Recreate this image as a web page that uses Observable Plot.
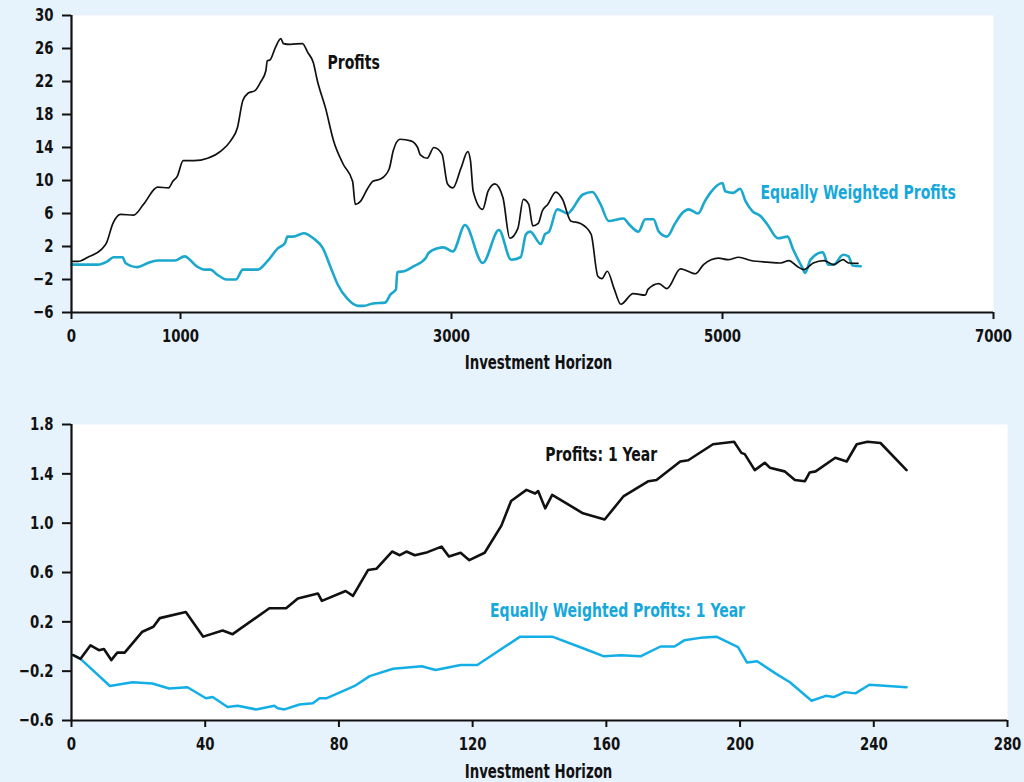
<!DOCTYPE html>
<html>
<head>
<meta charset="utf-8">
<script src="https://cdn.jsdelivr.net/npm/d3@7"></script>
<script src="https://cdn.jsdelivr.net/npm/@observablehq/plot@0.6"></script>
<style>
  html, body { margin: 0; padding: 0; background: #e7f3fc; }
  #chart { position: relative; width: 1024px; height: 782px; background: #e7f3fc; overflow: hidden; }
  #chart svg { position: absolute; left: 0; }
</style>
</head>
<body>
<div id="chart"></div>
<script>
// ---------- Top panel data ----------
const topTicksX = [0, 1000, 3000, 5000, 7000];
const topTicksY = [30, 26, 22, 18, 14, 10, 6, 2, -2, -6];

const profitsX = [0,60,150,270,320,380,450,570,660,790,890,930,970,1020,1100,1200,1300,1370,1420,1460,1500,1550,1590,1630,1640,1660,1700,1740,1760,1810,1900,1940,1980,2010,2070,2130,2200,2270,2290,2330,2380,2420,2480,2540,2570,2620,2700,2750,2770,2820,2870,2930,2970,3010,3070,3120,3140,3160,3230,3270,3320,3380,3430,3490,3530,3570,3600,3640,3670,3710,3770,3820,3880,3950,4030,4080,4110,4150,4200,4250,4340,4430,4450,4530,4590,4690,4800,4860,4970,5040,5120,5210,5330,5430,5490,5550,5600,5670,5750,5820,5890,5930,6000];
const profitsY = [0.2,0.2,0.7,1.6,2.4,4.8,5.9,5.8,7.1,9.2,9.1,9.9,10.5,12.4,12.4,12.7,13.6,14.8,16.4,19.7,20.6,20.9,21.9,23.3,24.5,24.6,26.1,27.2,26.6,26.5,26.6,25.5,24.3,22.1,18.8,14.8,12.0,9.9,7.1,7.5,9.0,9.9,10.2,11.4,13.6,15.0,14.8,14.0,13.1,12.7,14.0,13.2,9.6,9.1,11.5,13.5,12.4,8.7,6.5,8.7,9.6,7.9,3.0,4.2,7.7,7.1,4.5,4.8,6.3,7.1,8.6,7.7,5.1,4.8,3.5,-1.6,-1.9,-1.0,-3.1,-5.0,-3.7,-3.9,-3.2,-2.5,-3.1,-0.7,-1.3,-0.2,0.6,0.4,0.7,0.3,0.1,0.0,0.3,-0.4,-0.8,0.0,0.3,-0.2,0.4,0.0,-0.05];

const ewX = [0,240,330,385,470,495,605,700,790,950,1030,1120,1180,1220,1270,1340,1410,1460,1570,1640,1720,1770,1790,1830,1910,1980,2050,2110,2160,2230,2310,2350,2420,2510,2550,2590,2600,2650,2720,2810,2830,2900,2940,3010,3100,3230,3350,3440,3510,3550,3580,3660,3690,3720,3780,3860,3880,3970,4040,4100,4160,4270,4310,4380,4430,4490,4530,4590,4650,4700,4750,4820,4870,4910,5000,5020,5080,5130,5170,5220,5280,5330,5410,5480,5520,5590,5610,5650,5740,5780,5820,5890,5930,5960,6020];
const ewY = [-0.2,-0.2,0.2,0.7,0.7,0.0,-0.5,0.0,0.3,0.3,0.8,-0.4,-0.8,-0.8,-1.4,-2.0,-2.0,-0.8,-0.8,0.2,1.8,2.4,3.2,3.2,3.6,3.0,1.8,-0.6,-2.6,-4.3,-5.2,-5.2,-4.9,-4.8,-3.8,-3.2,-1.1,-1.0,-0.4,0.6,1.2,1.8,1.9,1.4,4.6,0.0,4.0,0.4,0.7,3.5,3.8,2.3,3.5,3.8,6.5,6.0,6.3,8.3,8.6,7.1,5.1,5.4,4.7,3.8,5.3,5.3,3.8,3.2,4.8,6.0,6.5,6.0,7.5,8.5,9.7,8.7,8.5,9.0,7.5,6.3,5.7,4.7,3.0,3.2,1.7,-0.6,-1.2,0.4,1.3,-0.2,-0.2,1.0,0.8,-0.3,-0.4];

// ---------- Bottom panel data ----------
const botTicksX = [0, 40, 80, 120, 160, 200, 240, 280];
const botTicksY = [1.8, 1.4, 1.0, 0.6, 0.2, -0.2, -0.6];

const profits1X = [0.5,2.7,5.7,8.2,9.7,11.9,13.7,15.9,21.2,24.5,26.4,34.2,39.4,45.2,48.2,59.2,64.2,67.7,73.7,74.9,82,84.2,88.7,91.2,95.9,98.2,100.2,102.7,106.5,110.7,112.9,116.4,119,123.6,128.6,131.5,136.1,138.7,139.6,141.7,143.8,153,159.5,165.2,172.6,175,182.1,184.5,191.9,198.2,200.4,201.4,204.4,207.4,208.9,213.3,216.4,219.4,220.8,222.6,228.5,231.9,234.9,238.1,242,249.8];
const profits1Y = [-0.07,-0.10,0.01,-0.03,-0.02,-0.11,-0.05,-0.05,0.12,0.16,0.23,0.28,0.08,0.13,0.10,0.31,0.31,0.39,0.43,0.37,0.45,0.41,0.62,0.63,0.77,0.74,0.77,0.74,0.765,0.81,0.73,0.76,0.70,0.76,0.98,1.18,1.27,1.24,1.26,1.12,1.23,1.08,1.03,1.22,1.34,1.35,1.50,1.51,1.64,1.66,1.57,1.56,1.43,1.49,1.45,1.42,1.35,1.34,1.41,1.42,1.53,1.50,1.64,1.66,1.65,1.43];

const ew1X = [0.5,2.7,11.5,18.2,24.2,29.2,34.7,40.2,42.2,46.7,49.7,55.2,60.7,61.7,63.7,68.2,72.2,74.2,76.2,82.2,84.7,89.2,96.2,104.8,108.9,116.4,121.4,134.2,143.8,153.6,159.3,164.3,170.2,176.2,180.4,183.3,188.1,192.9,199.4,202.1,205.1,210.7,214.9,221.4,225.6,228,231.3,234.5,238.7,249.8];
const ew1Y = [-0.07,-0.10,-0.32,-0.29,-0.30,-0.34,-0.33,-0.42,-0.41,-0.49,-0.48,-0.51,-0.48,-0.50,-0.51,-0.47,-0.46,-0.42,-0.42,-0.35,-0.32,-0.24,-0.18,-0.16,-0.19,-0.15,-0.15,0.08,0.08,-0.02,-0.08,-0.07,-0.08,0.00,0.00,0.05,0.07,0.08,-0.005,-0.13,-0.12,-0.22,-0.29,-0.44,-0.40,-0.41,-0.37,-0.38,-0.31,-0.33];

// ---------- Labels ----------
const topLabels = [
  {x: 2085, y: 24.3, text: "Profits", color: "#111"},
  {x: 5280, y: 8.45, text: "Equally Weighted Profits", color: "#16a8dc"}
];
const botLabels = [
  {x: 141.7, y: 1.55, text: "Profits: 1 Year", color: "#111"},
  {x: 125.2, y: 0.285, text: "Equally Weighted Profits: 1 Year", color: "#16a8dc"}
];
const xTitle = "Investment Horizon";

const FONT = '"DejaVu Sans Condensed", "Liberation Sans", sans-serif';
const zip = (xs, ys) => xs.map((x, i) => ({x, y: ys[i]}));

const svgStyle = {background: "transparent", fontFamily: FONT, fontSize: "18px", fontWeight: "bold", color: "#111", overflow: "visible"};

// Top panel
const topPlot = Plot.plot({
  width: 1024, height: 390,
  marginTop: 15, marginLeft: 71, marginRight: 31, marginBottom: 78,
  style: svgStyle,
  x: {type: "linear", domain: [0, 1000, 7000], range: [71, 180, 993]},
  y: {domain: [-6, 30]},
  marks: [
    Plot.frame({fill: "white", stroke: null}),
    Plot.line(zip(ewX, ewY), {x: "x", y: "y", stroke: "#1ba8cc", strokeWidth: 2.6, curve: "monotone-x"}),
    Plot.line(zip(profitsX, profitsY), {x: "x", y: "y", stroke: "#111", strokeWidth: 1.7, curve: "monotone-x"}),
    Plot.ruleY([-6], {strokeWidth: 2.2, stroke: "#111"}),
    Plot.ruleX([0], {strokeWidth: 2.2, stroke: "#111"}),
    Plot.axisX({ticks: topTicksX, tickSize: 7, tickPadding: 10, strokeWidth: 2, label: null, tickFormat: d3.format("d"), fontSize: 18}),
    Plot.axisY({ticks: topTicksY, tickSize: 9, tickPadding: 9, strokeWidth: 2, label: null, tickFormat: d3.format("d"), fontSize: 18}),
    Plot.text(topLabels, {x: "x", y: "y", text: "text", fill: "color", textAnchor: "start", fontSize: 19, fontWeight: "bold"}),
    Plot.text([xTitle], {frameAnchor: "bottom", lineAnchor: "middle", dx: 6, dy: 50.5, fontSize: 20, fontWeight: "bold", fill: "#111"})
  ]
});
topPlot.style.top = "0px";

// Bottom panel
const botPlot = Plot.plot({
  width: 1024, height: 392,
  marginTop: 34, marginLeft: 71, marginRight: 17, marginBottom: 62,
  style: svgStyle,
  x: {domain: [0, 280]},
  y: {domain: [-0.6, 1.8]},
  marks: [
    Plot.frame({fill: "white", stroke: null}),
    Plot.line(zip(ew1X, ew1Y), {x: "x", y: "y", stroke: "#13aee6", strokeWidth: 2.5}),
    Plot.line(zip(profits1X, profits1Y), {x: "x", y: "y", stroke: "#111", strokeWidth: 2.6}),
    Plot.ruleY([-0.6], {strokeWidth: 2.2, stroke: "#111"}),
    Plot.ruleX([0], {strokeWidth: 2.2, stroke: "#111"}),
    Plot.axisX({ticks: botTicksX, tickSize: 7, tickPadding: 10, strokeWidth: 2, label: null, tickFormat: d3.format("d"), fontSize: 18}),
    Plot.axisY({ticks: botTicksY, tickSize: 9, tickPadding: 9, strokeWidth: 2, label: null, tickFormat: d3.format(".1f"), fontSize: 18}),
    Plot.text(botLabels, {x: "x", y: "y", text: "text", fill: "color", textAnchor: "start", fontSize: 19, fontWeight: "bold"}),
    Plot.text([xTitle], {frameAnchor: "bottom", lineAnchor: "middle", dx: -1, dy: 51.5, fontSize: 20, fontWeight: "bold", fill: "#111"})
  ]
});
botPlot.style.top = "390px";

const chart = document.getElementById("chart");
chart.appendChild(topPlot);
chart.appendChild(botPlot);

// condense all text horizontally to mimic the narrow typeface of the original
chart.querySelectorAll("svg text").forEach(t => {
  const w = t.getComputedTextLength();
  const k = t.textContent === xTitle ? 0.74 : 0.82;
  if (w > 0) {
    t.setAttribute("textLength", (w * k).toFixed(1));
    t.setAttribute("lengthAdjust", "spacingAndGlyphs");
  }
});
</script>
</body>
</html>
